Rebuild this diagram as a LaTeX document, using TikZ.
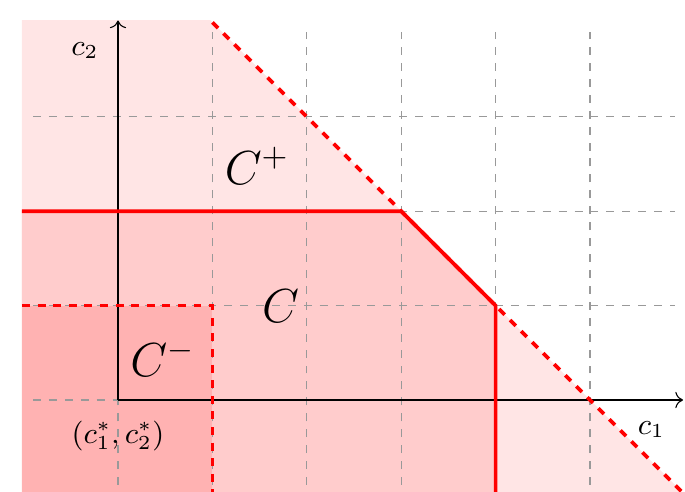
\documentclass[tikz,border=0pt]{standalone}
\usetikzlibrary{arrows.meta}
\tikzset{
  gridline/.style={gray!80, line width=0.35pt, dash pattern=on 2.4pt off 2.4pt},
  redsolid/.style={red, line width=1.1pt},
  reddash/.style={red, line width=1.1pt, dash pattern=on 2.4pt off 2.3pt},
  axisline/.style={black, line width=0.33pt, ->},
  biglabel/.style={font=\fontsize{14.9}{18}\selectfont, inner sep=0pt},
  smalllabel/.style={font=\fontsize{8.6}{10}\selectfont, inner sep=0pt},
}
\begin{document}
\begin{tikzpicture}
\useasboundingbox (-1.25,-0.964) rectangle (6.006,4.237);
\clip (-1.25,-0.964) rectangle (6.006,4.237);
% regions
\fill[red!10] (-1.017,4.025) -- (0.975,4.025) -- (6,-1) -- (-1.017,-1) -- cycle;
\fill[red!20] (-1.017,2) -- (3,2) -- (4,1) -- (4,-1) -- (-1.017,-1) -- cycle;
\fill[red!30] (-1.017,1) -- (1,1) -- (1,-1) -- (-1.017,-1) -- cycle;
% grid
\draw[gridline] (-0.9,-0.9) grid (5.9,3.9);
% axes
\coordinate (O) at (0,0);
\coordinate (xend) at (5.985,0);
\coordinate (yend) at (0,4.02);
\draw[axisline] (O) -- (xend);
\draw[axisline] (O) -- (yend);
% boundary lines
\coordinate (hA) at (1,4);
\coordinate (hB) at (6,-1);
\draw[reddash] (hA) -- (hB);
\coordinate (cA) at (-1.017,2);
\coordinate (cB) at (3,2);
\coordinate (cC) at (4,1);
\coordinate (cD) at (4,-1.1);
\draw[redsolid, line join=miter] (cA) -- (cB) -- (cC) -- (cD);
\coordinate (mA) at (-1.017,1);
\coordinate (mB) at (1,1);
\coordinate (mC) at (1,-1.1);
\draw[reddash] (mA) -- (mB) -- (mC);
% labels
\node[smalllabel] (lc2) at (-0.35,3.70) {$c_2$};
\node[smalllabel] (lc1) at (5.65,-0.31) {$c_1$};
\node[smalllabel] (lstar) at (0,-0.387) {$(c_1^*,c_2^*)$};
\node[biglabel] (lCp) at (1.472,2.479) {$C^+$};
\node[biglabel] (lC) at (1.721,0.996) {$C$};
\node[biglabel] (lCm) at (0.471,0.44) {$C^-$};
\end{tikzpicture}
\end{document}
